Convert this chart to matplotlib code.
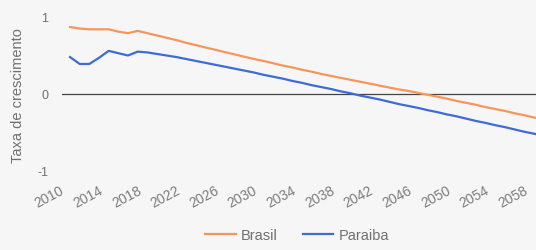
import matplotlib
matplotlib.use('Agg')
import matplotlib.pyplot as plt
import matplotlib.transforms as mtransforms

plt.rcParams['font.family'] = ['Liberation Sans', 'DejaVu Sans']

# anos e taxas de crescimento (%)
anos = list(range(2010, 2061))
brasil = [0.87, 0.85, 0.84, 0.84, 0.84, 0.81, 0.79, 0.82, 0.79, 0.76,
          0.73, 0.70, 0.665, 0.635, 0.605, 0.575, 0.545, 0.515, 0.485, 0.455,
          0.43, 0.40, 0.37, 0.345, 0.315, 0.29, 0.26, 0.235, 0.21, 0.185,
          0.16, 0.135, 0.11, 0.085, 0.06, 0.04, 0.015, -0.01, -0.035, -0.06,
          -0.09, -0.115, -0.14, -0.17, -0.195, -0.22, -0.25, -0.275, -0.305, -0.33,
          -0.36]
paraiba = [0.48, 0.39, 0.39, 0.47, 0.56, 0.53, 0.50, 0.55, 0.54, 0.52,
           0.50, 0.48, 0.455, 0.43, 0.405, 0.38, 0.355, 0.33, 0.305, 0.28,
           0.25, 0.225, 0.20, 0.17, 0.145, 0.115, 0.09, 0.065, 0.035, 0.01,
           -0.02, -0.045, -0.07, -0.10, -0.13, -0.155, -0.18, -0.21, -0.235, -0.265,
           -0.29, -0.32, -0.35, -0.375, -0.405, -0.43, -0.46, -0.49, -0.515, -0.545,
           -0.57]
xticks = list(range(2010, 2059, 4))
yticks = [-1, 0, 1]

W, H = 536, 251
fig = plt.figure(figsize=(W / 100, H / 100), dpi=100)
fig.patch.set_facecolor('#f6f6f6')
ax = fig.add_axes([62 / W, 79 / H, 496 / W, 154 / H])
ax.set_facecolor('#f6f6f6')

cinza = '#707070'
l1, = ax.plot(anos, brasil, color='#f7965a', lw=1.6, label='Brasil')
l2, = ax.plot(anos, paraiba, color='#3e6bd6', lw=1.6, label='Paraiba')
ax.axhline(0, color='#444444', lw=0.9, zorder=1)

ax.set_xlim(2009.17, 2060.5)
ax.set_ylim(-1, 1)
for s in ax.spines.values():
    s.set_visible(False)

ax.set_yticks(yticks)
ax.set_yticklabels(['-1', '0', '1'])
ax.tick_params(axis='y', length=0, pad=10, labelsize=9, labelcolor=cinza)

ax.set_xticks(xticks)
ax.set_xticklabels([str(a) for a in xticks])
ax.tick_params(axis='x', length=0, pad=0, labelsize=10, labelcolor='#7c7c7c')
off = mtransforms.ScaledTranslation(-7 / 100, -18 / 100, fig.dpi_scale_trans)
for lab in ax.get_xticklabels():
    lab.set_rotation(28)
    lab.set_ha('right')
    lab.set_va('center')
    lab.set_rotation_mode('anchor')
    lab.set_transform(lab.get_transform() + off)

fig.text(18 / W, 1 - 96 / H, 'Taxa de crescimento', rotation=90,
         ha='center', va='center', fontsize=10.5, color=cinza)

fig.legend(handles=[l1, l2], loc='center', bbox_to_anchor=(297 / W, 1 - 236 / H),
           ncol=2, frameon=False, fontsize=10.5, handlelength=2.1,
           handletextpad=0.35, columnspacing=1.7, labelcolor=cinza)

fig.savefig('out.png', dpi=100, facecolor=fig.get_facecolor())
